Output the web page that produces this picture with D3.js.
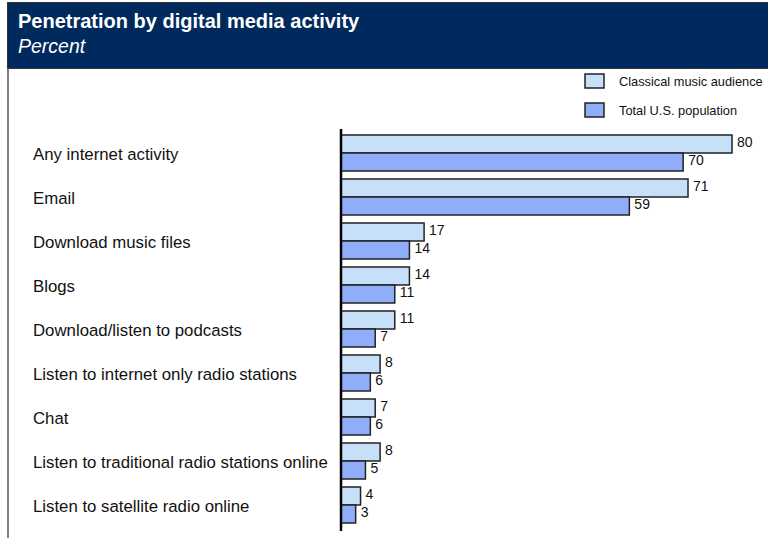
<!DOCTYPE html>
<html>
<head>
<meta charset="utf-8">
<script src="https://cdn.jsdelivr.net/npm/d3@7"></script>
<style>
  html, body { margin: 0; padding: 0; background: #fff; }
  svg { display: block; font-family: "Liberation Sans", Arial, sans-serif; }
</style>
</head>
<body>
<svg id="chart" width="768" height="538"></svg>
<script>
// Activities, top to bottom
const categories = [
  "Any internet activity",
  "Email",
  "Download music files",
  "Blogs",
  "Download/listen to podcasts",
  "Listen to internet only radio stations",
  "Chat",
  "Listen to traditional radio stations online",
  "Listen to satellite radio online"
];
const seriesNames = ["Classical music audience", "Total U.S. population"];
const classicalValues = [80, 71, 17, 14, 11, 8, 7, 8, 4];
const totalUSValues   = [70, 59, 14, 11, 7, 6, 6, 5, 3];
const seriesColors = ["#C7E0FA", "#8FADF9"];

const svg = d3.select("#chart");
const W = 768, H = 538;

// Header band
svg.append("rect")
  .attr("x", 7.5).attr("y", 2.5).attr("width", W).attr("height", 66)
  .attr("fill", "#002A5E").attr("stroke", "#333").attr("stroke-width", 1);
svg.append("text")
  .attr("x", 18).attr("y", 28)
  .attr("fill", "#fff").attr("font-weight", "bold").attr("font-size", 20)
  .text("Penetration by digital media activity");
svg.append("text")
  .attr("x", 18).attr("y", 53)
  .attr("fill", "#fff").attr("font-style", "italic").attr("font-size", 19.5)
  .text("Percent");

// Left frame edge of the body
svg.append("line")
  .attr("x1", 8).attr("x2", 8).attr("y1", 68).attr("y2", H)
  .attr("stroke", "#555").attr("stroke-width", 1.5);

// Scales
const x = d3.scaleLinear().domain([0, 80]).range([341, 732]);
const y = d3.scaleBand().domain(categories).range([135, 523]).paddingInner(8 / 44).paddingOuter(0);
const ySub = d3.scaleBand().domain(seriesNames).range([0, y.bandwidth()]);

const rows = categories.map((c, i) => ({
  cat: c,
  vals: [
    { s: seriesNames[0], v: classicalValues[i], color: seriesColors[0] },
    { s: seriesNames[1], v: totalUSValues[i], color: seriesColors[1] }
  ]
}));

// Category labels
svg.append("g").selectAll("text")
  .data(categories).join("text")
  .attr("x", 33)
  .attr("y", d => y(d) + y.bandwidth() / 2 + 7)
  .attr("font-size", 16.8)
  .attr("fill", "#111")
  .text(d => d);

// Bars
const groups = svg.append("g").selectAll("g")
  .data(rows).join("g")
  .attr("transform", d => `translate(0,${y(d.cat)})`);

groups.selectAll("rect")
  .data(d => d.vals).join("rect")
  .attr("x", x(0))
  .attr("y", d => ySub(d.s))
  .attr("width", d => x(d.v) - x(0))
  .attr("height", ySub.bandwidth())
  .attr("fill", d => d.color)
  .attr("stroke", "#222")
  .attr("stroke-width", 1.5);

groups.selectAll("text")
  .data(d => d.vals).join("text")
  .attr("x", d => x(d.v) + 5)
  .attr("y", d => ySub(d.s) + ySub.bandwidth() / 2 + 3)
  .attr("font-size", 14)
  .attr("fill", "#111")
  .text(d => d.v);

// Axis line
svg.append("line")
  .attr("x1", x(0)).attr("x2", x(0)).attr("y1", 129).attr("y2", 531)
  .attr("stroke", "#000").attr("stroke-width", 2.5);

// Legend
const legend = svg.append("g").selectAll("g")
  .data(seriesNames).join("g")
  .attr("transform", (d, i) => `translate(585,${74 + i * 29})`);
legend.append("rect")
  .attr("width", 19).attr("height", 14)
  .attr("fill", (d, i) => seriesColors[i])
  .attr("stroke", "#222").attr("stroke-width", 1.5);
legend.append("text")
  .attr("x", 34).attr("y", 12)
  .attr("font-size", 12.8)
  .attr("fill", "#111")
  .text(d => d);
</script>
</body>
</html>
